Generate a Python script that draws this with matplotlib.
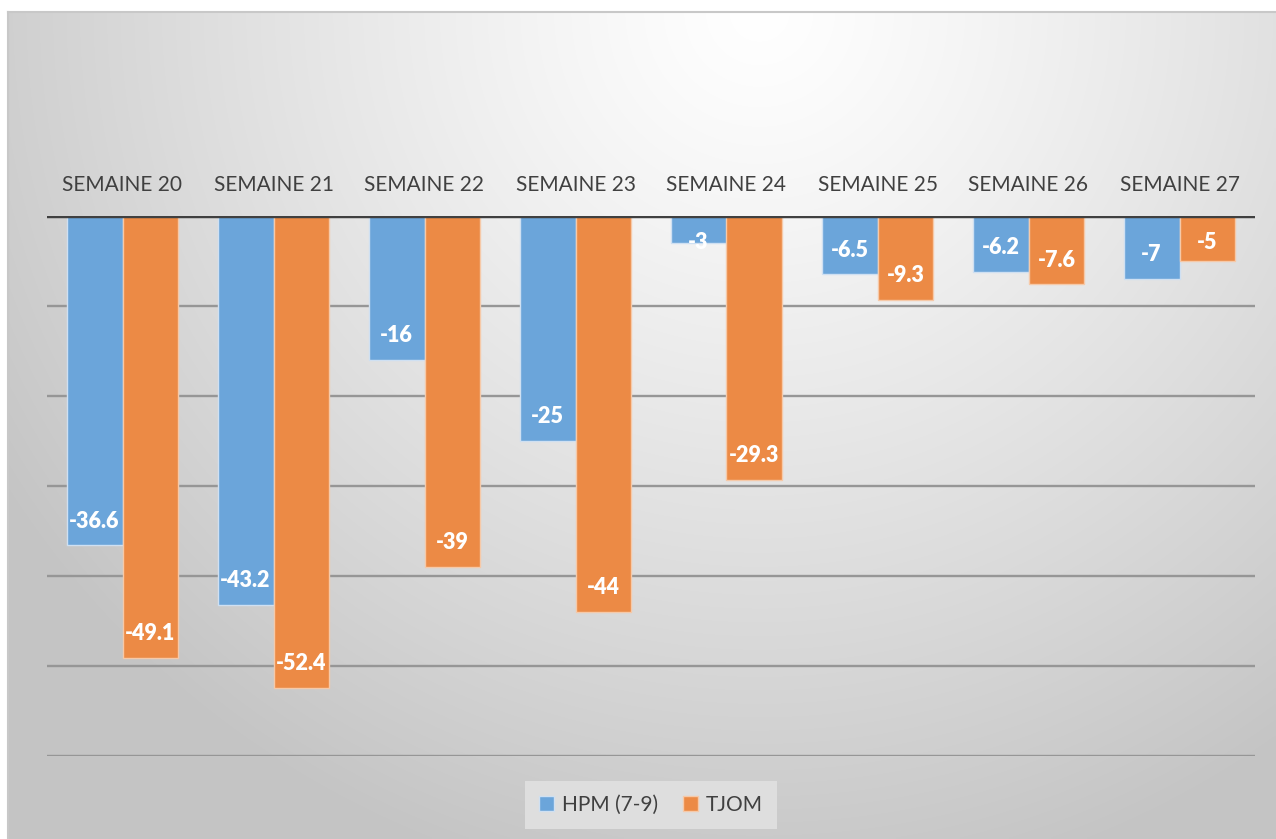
import numpy as np
import matplotlib
matplotlib.use("Agg")
import matplotlib.pyplot as plt
from matplotlib.patches import Patch

categories = ["SEMAINE 20", "SEMAINE 21", "SEMAINE 22", "SEMAINE 23",
              "SEMAINE 24", "SEMAINE 25", "SEMAINE 26", "SEMAINE 27"]
hpm = [-36.6, -43.2, -16, -25, -3, -6.5, -6.2, -7]
tjom = [-49.1, -52.4, -39, -44, -29.3, -9.3, -7.6, -5]
series_names = ["HPM (7-9)", "TJOM"]

plt.rcParams['font.family'] = ['Lato', 'DejaVu Sans']

W, H = 1276, 839
fig = plt.figure(figsize=(W / 100, H / 100), dpi=100)
fig.patch.set_facecolor('white')

# background panel with radial gradient
px0, py0 = 8, 12
bg = fig.add_axes([px0 / W, 0, (W - px0) / W, (H - py0) / H], zorder=-10)
gw, gh = 400, 270
xx, yy = np.meshgrid(np.linspace(px0, W, gw), np.linspace(py0, H, gh))
cx, cy = 760, 10
d = np.sqrt((xx - cx) ** 2 + (yy - cy) ** 2) / 900.0
d = np.clip(d, 0, 1)
val = 1.0 - 0.23 * d ** 1.2
img = np.dstack([val, val, val])
bg.imshow(img, aspect='auto', extent=[0, 1, 0, 1], interpolation='bilinear')
bg.set_xlim(0, 1)
bg.set_ylim(0, 1)
bg.axis('off')
fig.add_artist(plt.Line2D([px0 / W, 1], [1 - py0 / H, 1 - py0 / H],
                          color='#c8c8c8', lw=1.5, transform=fig.transFigure))
fig.add_artist(plt.Line2D([px0 / W, px0 / W], [0, 1 - py0 / H],
                          color='#c8c8c8', lw=1.5, transform=fig.transFigure))

left, right = 47, 1255
top, bottom = 216, 756
ax = fig.add_axes([left / W, 1 - bottom / H, (right - left) / W, (bottom - top) / H])
ax.set_facecolor('none')

x = np.arange(len(categories))
bw = 0.37
blue = '#6BA5DA'
orange = '#EC8A45'
ax.bar(x - bw / 2, hpm, width=bw, color=blue, edgecolor='#cfe0f2', linewidth=1.0, zorder=3)
ax.bar(x + bw / 2, tjom, width=bw, color=orange, edgecolor='#f6c9a8', linewidth=1.0, zorder=3)

ax.set_xlim(-0.5, len(categories) - 0.5)
ax.set_ylim(-60, 0)
for gy in [-10, -20, -30, -40, -50, -60]:
    ax.axhline(gy, color='#969696', lw=1.7, zorder=1)
ax.axhline(0, color='#404040', lw=3.2, zorder=5)

for s in ax.spines.values():
    s.set_visible(False)
ax.set_yticks([])
ax.xaxis.tick_top()
ax.set_xticks(x)
ax.set_xticklabels(categories, fontsize=15, color='#404040')
ax.tick_params(axis='x', length=0, pad=15)

def fmt(v):
    return "%g" % v

for xs, vals in [(x - bw / 2, hpm), (x + bw / 2, tjom)]:
    for xi, v in zip(xs, vals):
        ly = min(v + 2.7, -2.9)
        ax.text(xi, ly, fmt(v), ha='center', va='center', color='white',
                fontsize=15.5, fontweight='heavy', zorder=6)

handles = [Patch(facecolor=blue, edgecolor='#cfe0f2'), Patch(facecolor=orange, edgecolor='#f6c9a8')]
leg = fig.legend(handles, series_names, loc='center', bbox_to_anchor=(651 / W, 1 - 805 / H),
                 ncol=2, frameon=True, fontsize=15, handlelength=0.7, handleheight=0.7,
                 handletextpad=0.4, columnspacing=1.2, borderpad=0.65)
leg.get_frame().set_facecolor('#dedede')
leg.get_frame().set_edgecolor('none')
leg.get_frame().set_alpha(1)
leg.get_frame().set_boxstyle('square', pad=0)
for t in leg.get_texts():
    t.set_color('#404040')

fig.savefig('out.png', dpi=100)
